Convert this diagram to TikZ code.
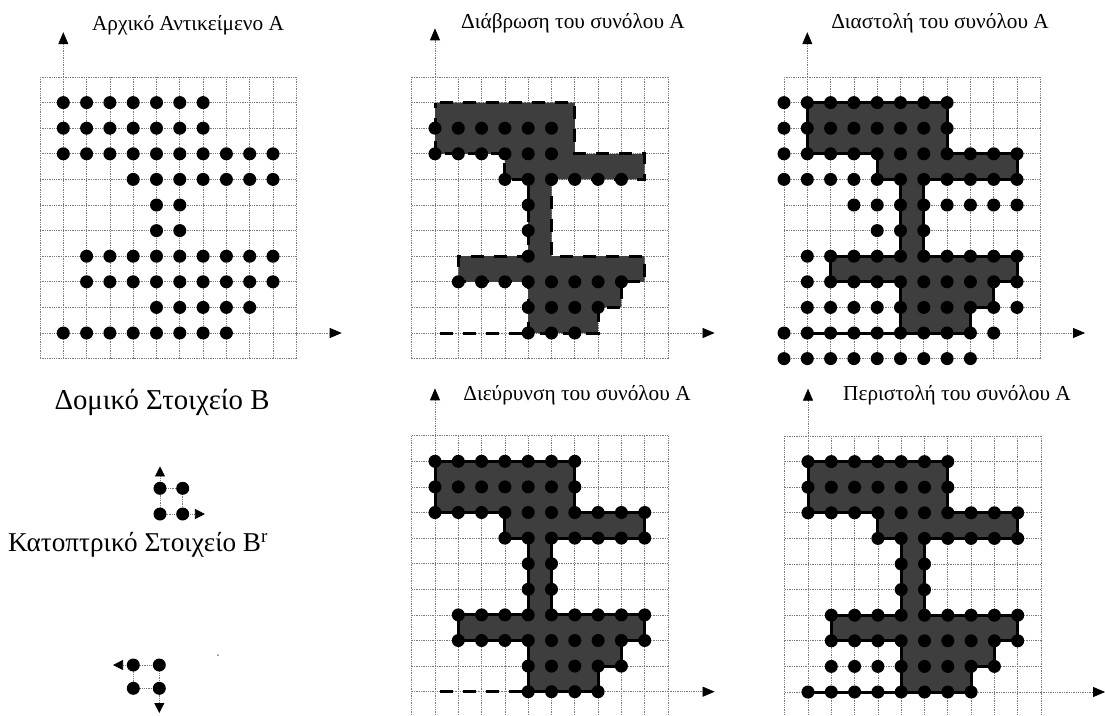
\documentclass[tikz,border=0pt]{standalone}
\usepackage{fontspec}
\setmainfont{Liberation Serif}
\usetikzlibrary{arrows.meta}
\definecolor{shapec}{HTML}{3E3E3E}
\definecolor{gridc}{HTML}{7A7A7A}
\tikzset{
  gridline/.style={gridc, line width=0.75pt, dash pattern=on 1.3pt off 1pt},
  axisline/.style={gridline, -{Triangle[length=12pt,width=10pt,black]}},
  smallaxis/.style={gridline, -{Triangle[length=10pt,width=10pt,black]}},
  solidedge/.style={draw=black, line width=3pt, line join=round},
  dashedge/.style={draw=black, line width=3pt, dash pattern=on 13pt off 10pt, dash phase=18pt},
  titletext/.style={font=\fontsize{21.3}{24}\selectfont, inner sep=0pt},
  bigtext/.style={inner sep=0pt},
  blobshape/.pic={
    \fill[shapec] (0,9) -- (6,9) -- (6,7) -- (9,7) -- (9,6) -- (5,6) -- (5,3) -- (9,3) -- (9,2) -- (8,2) -- (8,1) -- (7,1) -- (7,0) -- (4,0) -- (4,2) -- (1,2) -- (1,3) -- (4,3) -- (4,6) -- (3,6) -- (3,7) -- (0,7) -- cycle;
    \draw[pic actions] (0,9) -- (6,9) -- (6,7) -- (9,7) -- (9,6) -- (5,6) -- (5,3) -- (9,3) -- (9,2) -- (8,2) -- (8,1) -- (7,1) -- (7,0) -- (4,0) -- (4,2) -- (1,2) -- (1,3) -- (4,3) -- (4,6) -- (3,6) -- (3,7) -- (0,7) -- cycle;
  }
}
\newcommand\dotrow[3]{\foreach \xx in {#2,...,#3}{\fill (\xx,#1) circle (6.5pt);}}
\newcommand\gridpanel[2]{%
  \foreach \i in {-1,...,10}{\draw[gridline] (\i,-1) -- (\i,10);}
  \foreach \j in {-1,...,10}{\draw[gridline] (-1,\j) -- (10,\j);}
  \coordinate (ht) at (#1,0);
  \coordinate (vt) at (0,#2);
  \coordinate (hs) at (10,0);
  \coordinate (vs) at (0,10);
  \draw[axisline] (hs) -- (ht);
  \draw[axisline] (vs) -- (vt);
}
\newcommand\setA{%
  \dotrow{9}{0}{6}\dotrow{8}{0}{6}\dotrow{7}{0}{9}\dotrow{6}{3}{9}
  \dotrow{5}{4}{5}\dotrow{4}{4}{5}\dotrow{3}{1}{9}\dotrow{2}{1}{9}}
\begin{document}
\begin{tikzpicture}[x=1pt,y=-1pt]
\useasboundingbox (0,0) rectangle (1105,715);
\clip (0,0) rectangle (1105,715);

% Panel 1: original A
\begin{scope}[shift={(63.3,333)}, x=23.3pt, y=25.6pt]
  \gridpanel{11.95}{11.75}
  \setA
  \dotrow{1}{4}{8}\dotrow{0}{0}{7}
\end{scope}
\node[titletext] (t1) at (188,25) {Αρχικό Αντικείμενο A};

% Panel 2: erosion
\begin{scope}[shift={(435,333)}, x=23.3pt, y=25.6pt]
  \gridpanel{12}{11.9}
  \pic[dashedge] {blobshape};
  \coordinate (e0) at (0,0); \coordinate (e4) at (4,0);
  \draw[dashedge] (e0) -- (e4);
  \dotrow{8}{0}{5}\dotrow{7}{0}{5}\dotrow{6}{3}{8}\dotrow{5}{4}{4}
  \dotrow{4}{4}{4}\dotrow{3}{4}{4}\dotrow{2}{1}{8}\dotrow{1}{4}{7}\dotrow{0}{4}{6}
\end{scope}
\node[titletext] (t2) at (573,23) {Διάβρωση του συνόλου A};

% Panel 3: dilation
\begin{scope}[shift={(807.3,333)}, x=23.3pt, y=25.6pt]
  \gridpanel{11.92}{11.75}
  \pic[solidedge] {blobshape};
  \coordinate (d0) at (0,0); \coordinate (d4) at (4,0);
  \draw[solidedge] (d0) -- (d4);
  \dotrow{9}{-1}{6}\dotrow{8}{-1}{6}\dotrow{7}{-1}{9}\dotrow{6}{-1}{9}
  \dotrow{5}{2}{9}\dotrow{4}{3}{5}\dotrow{3}{0}{9}\dotrow{2}{0}{9}
  \dotrow{1}{0}{9}\dotrow{0}{-1}{8}\dotrow{-1}{-1}{7}
\end{scope}
\node[titletext] (t3) at (940,23) {Διαστολή του συνόλου A};

% Panel 4: opening
\begin{scope}[shift={(435,691.7)}, x=23.3pt, y=25.6pt]
  \gridpanel{12}{11.85}
  \pic[solidedge] {blobshape};
  \coordinate (o0) at (0,0); \coordinate (o4) at (4,0);
  \draw[dashedge] (o0) -- (o4);
  \setA
  \dotrow{1}{4}{8}\dotrow{0}{4}{7}
\end{scope}
\node[titletext] (t4) at (577,395) {Διεύρυνση του συνόλου A};

% Panel 5: closing
\begin{scope}[shift={(808,692)}, x=23.3pt, y=25.6pt]
  \gridpanel{12.75}{11.85}
  \pic[solidedge] {blobshape};
  \coordinate (c0) at (0,0); \coordinate (c4) at (4,0);
  \draw[solidedge] (c0) -- (c4);
  \setA
  \dotrow{1}{1}{8}\dotrow{0}{0}{7}
\end{scope}
\node[titletext] (t5) at (957,395) {Περιστολή του συνόλου A};

% Structuring element B
\node[bigtext, font=\fontsize{28.8}{31}\selectfont] (lb) at (162,402) {Δομικό Στοιχείο B};
\begin{scope}[shift={(160,514)}, x=22.7pt, y=25.7pt]
  \coordinate (b00) at (0,0); \coordinate (b10) at (1,0);
  \coordinate (b01) at (0,1); \coordinate (b11) at (1,1);
  \draw[gridline] (b00) -- (b10) -- (b11) -- (b01) -- cycle;
  \draw[smallaxis] (b01) -- (0,1.85);
  \draw[smallaxis] (b10) -- (1.98,0);
  \foreach \p in {b00,b10,b01,b11}{\fill (\p) circle (6.5pt);}
\end{scope}

% Reflected element
\node[bigtext, font=\fontsize{27.2}{30}\selectfont] (lr) at (138,545) {Κατοπτρικό Στοιχείο B\textsuperscript{r}};
\begin{scope}[shift={(159.3,665)}, x=26pt, y=23.3pt]
  \coordinate (r00) at (0,0); \coordinate (r10) at (-1,0);
  \coordinate (r01) at (0,-1); \coordinate (r11) at (-1,-1);
  \draw[gridline] (r00) -- (r10) -- (r11) -- (r01) -- cycle;
  \draw[smallaxis] (r10) -- (-1.78,0);
  \draw[smallaxis] (r01) -- (0,-2.06);
  \foreach \p in {r00,r10,r01,r11}{\fill (\p) circle (6.5pt);}
\end{scope}
\fill[gray] (218,655) circle (1pt);
\end{tikzpicture}
\end{document}
